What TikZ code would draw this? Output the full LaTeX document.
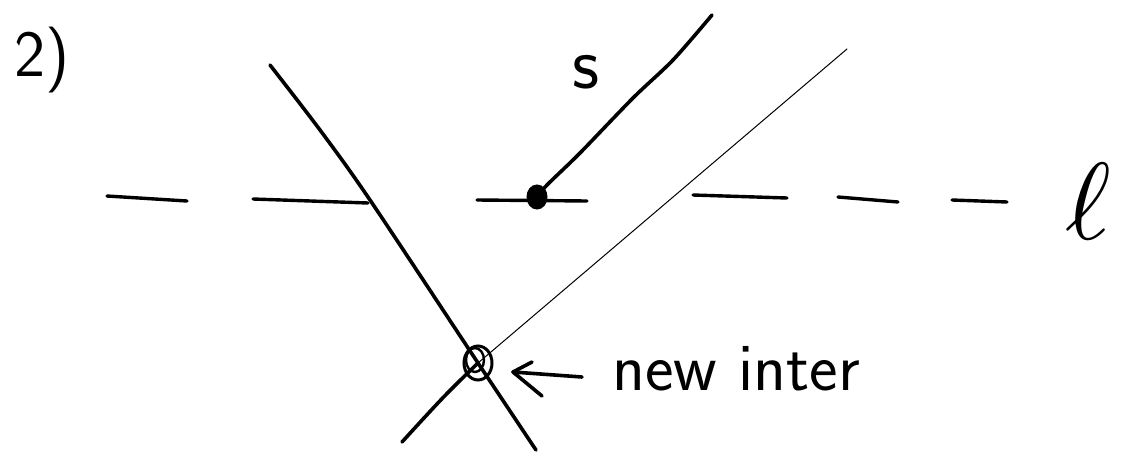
\documentclass[tikz,border=0pt]{standalone}
\usepackage{graphicx}
\usetikzlibrary{calc}
\begin{document}
\begin{tikzpicture}[x=1pt,y=-1pt,
  pen/.style={line width=3.6pt,line cap=round,line join=round},
  thinpen/.style={line width=1pt,line cap=round},
  dashseg/.style={line width=3.4pt,line cap=round},
  hand/.style={inner sep=0pt,font=\sffamily}]
\useasboundingbox[fill=white] (0,0) rectangle (1128,466);

% label 2)
\node[hand,anchor=base west] (num) at (14,76) {\fontsize{66}{66}\selectfont 2)};

% dashed line l
\draw[dashseg] (107,196) -- (187,201);
\draw[dashseg] (253,199) -- (368,203);
\draw[dashseg] (477,200) -- (587,201);
\draw[dashseg] (693,195) -- (787,198);
\draw[dashseg] (838,197) -- (898,202);
\draw[dashseg] (952,200) -- (1007,202);
\node[inner sep=0pt,anchor=south] (ell) at (1088,240) {\resizebox{!}{76pt}{$\ell$}};

% key points
\coordinate (P) at (537,197);
\coordinate (Q) at (478,363);

% left curve
\draw[pen] plot[smooth] coordinates {(270,65) (320,130) (370,200) (Q) (536,450)};

% thin line and its lower part
\draw[thinpen] (847,49) -- (Q);
\draw[pen] (Q) .. controls (445,395) .. (402,442);

% segment s
\draw[pen] plot[smooth] coordinates {(P) (547,185) (580,153) (633,98) (673,60) (712,15)};
\node[hand,anchor=base] (s) at (586,88) {\fontsize{75}{75}\selectfont s};

% endpoint dot
\draw[line width=3pt,fill=black] (P) ellipse [x radius=9,y radius=11];

% new intersection circle
\draw[line width=3pt] (Q) ellipse [x radius=14,y radius=17];
\draw[line width=2.4pt] ($(Q)+(-3,-3)$) ellipse [x radius=9,y radius=12];

% arrow and label
\coordinate (at) at (582,377);
\coordinate (ah) at (513,372);
\coordinate (b1) at (532,362);
\coordinate (b2) at (542,396);
\draw[pen] (at) -- (ah);
\draw[pen] (b1) -- (ah) -- (b2);
\node[hand,anchor=base west] (lab) at (612,390) {\fontsize{68}{68}\selectfont new inter};
\end{tikzpicture}
\end{document}
